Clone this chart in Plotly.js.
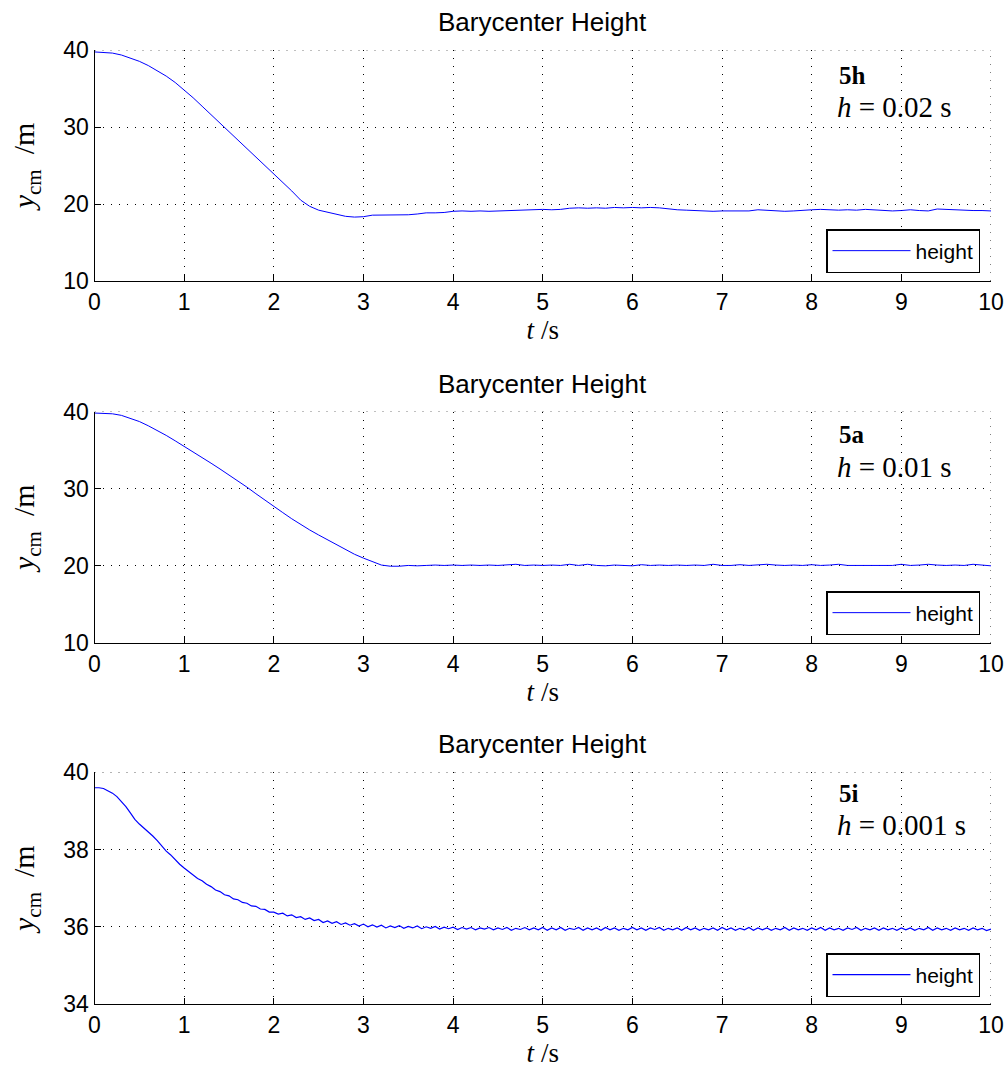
<!DOCTYPE html>
<html>
<head>
<meta charset="utf-8">
<script src="https://cdn.plot.ly/plotly-3.0.1.min.js"></script>
<style>html,body{margin:0;padding:0;background:#fff;}#chart{width:1008px;height:1068px;}</style>
</head>
<body>
<div id="chart"></div>
<script>
// ---- data ----
const chartTitle = "Barycenter Height";
const seriesName = "height";
const caseLabels = ["5h", "5a", "5i"];
const stepLabels = ["0.02", "0.01", "0.001"];
const xTicks = [0,1,2,3,4,5,6,7,8,9,10];
const yTicks1 = [10,20,30,40];
const yTicks2 = [10,20,30,40];
const yTicks3 = [34,36,38,40];

const dt1 = 0.1;   // sampling step used to read panel 1
const height1 = [39.75,39.72,39.60,39.35,38.99,38.53,37.98,37.34,36.61,35.78,34.85,
 33.80,32.70,31.60,30.50,29.40,28.30,27.20,26.10,25.05,24.00,
 22.85,21.70,20.50,19.70,19.20,18.90,18.60,18.40,18.30,18.35,
 18.55,18.55,18.60,18.55,18.60,18.70,18.85,18.85,18.90,19.05,
 19.10,19.05,19.10,19.05,19.10,19.15,19.20,19.25,19.30,19.30,
 19.25,19.30,19.45,19.50,19.45,19.50,19.45,19.55,19.50,19.55,
 19.50,19.55,19.50,19.35,19.25,19.20,19.15,19.10,19.05,19.10,
 19.10,19.15,19.10,19.25,19.20,19.15,19.05,19.10,19.20,19.25,
 19.30,19.25,19.20,19.25,19.20,19.30,19.25,19.15,19.10,19.15,
 19.25,19.15,19.10,19.35,19.30,19.20,19.20,19.15,19.15,19.10];

const dt2 = 0.1;
const height2 = [39.80,39.78,39.70,39.50,39.15,38.70,38.15,37.55,36.90,36.20,35.50,
 34.80,34.05,33.30,32.55,31.80,31.00,30.20,29.35,28.50,27.70,
 26.90,26.10,25.35,24.65,24.00,23.35,22.70,22.10,21.50,21.00,
 20.50,20.10,19.95,19.95,20.05,20.00,20.05,20.10,20.05,20.10,
 20.05,20.10,20.05,20.10,20.05,20.10,20.20,20.05,20.10,20.05,
 20.10,20.05,20.20,20.05,20.20,20.05,20.00,20.10,20.05,20.00,
 20.15,20.05,20.10,20.05,20.10,20.05,20.10,20.05,20.20,20.05,
 20.05,20.15,20.05,20.10,20.20,20.10,20.05,20.10,20.05,20.15,
 20.05,20.10,20.20,20.05,20.05,20.10,20.05,20.10,20.05,20.20,
 20.05,20.10,20.20,20.10,20.05,20.10,20.05,20.20,20.10,20.00];

const dt3 = 0.05;
const height3 = [39.60,39.60,39.58,39.53,39.46,39.37,39.25,39.11,38.95,38.78,38.66,
 38.56,38.46,38.35,38.23,38.10,37.96,37.86,37.73,37.62,37.52,
 37.43,37.35,37.25,37.19,37.10,37.04,36.95,36.91,36.83,36.80,
 36.72,36.70,36.63,36.61,36.54,36.53,36.46,36.45,36.38,36.38,
 36.33,36.35,36.28,36.31,36.24,36.26,36.19,36.23,36.16,36.19,
 36.11,36.15,36.09,36.13,36.06,36.10,36.04,36.08,36.02,36.07,
 36.00,36.05,35.99,36.04,35.97,36.02,35.98,36.03,35.96,36.01,
 35.97,36.02,35.95,36.00,35.96,36.01,35.94,35.99,35.95,35.99,
 35.93,35.98,35.94,35.98,35.92,35.97,35.94,35.98,35.92,35.97,
 35.93,35.98,35.91,35.96,35.93,35.98,35.92,35.97,35.92,35.98,
 35.91,35.97,35.92,35.98,35.91,35.96,35.93,35.98,35.91,35.97,
 35.92,35.97,35.91,35.98,35.92,35.97,35.91,35.96,35.92,35.98,
 35.92,35.97,35.91,35.97,35.93,35.98,35.91,35.96,35.92,35.97,
 35.91,35.98,35.92,35.97,35.91,35.96,35.92,35.97,35.91,35.98,
 35.92,35.97,35.91,35.96,35.92,35.98,35.91,35.97,35.92,35.97,
 35.91,35.96,35.92,35.98,35.91,35.97,35.92,35.96,35.91,35.97,
 35.92,35.98,35.91,35.97,35.92,35.96,35.91,35.97,35.93,35.98,
 35.91,35.96,35.92,35.97,35.91,35.97,35.92,35.96,35.91,35.97,
 35.92,35.97,35.91,35.96,35.92,35.98,35.91,35.97,35.92,35.96,
 35.91,35.97,35.92,35.96,35.91,35.97,35.92,35.96,35.90,35.94];

function timeAxis(n, dt){ const t=[]; for(let i=0;i<n;i++) t.push(+(i*dt).toFixed(4)); return t; }

// ---- layout helpers ----
const W = 1008, H = 1068;
const px = v => v / W;
const py = v => 1 - v / H;
const xDom = [px(94.5), px(991)];
const panels = [
  {top: 50,    bottom: 281,  yr:[10,40], yt:yTicks1, data:height1, dt:dt1, lab:[76,107], leg:251},
  {top: 411.5, bottom: 643,  yr:[10,40], yt:yTicks2, data:height2, dt:dt2, lab:[435,467], leg:613},
  {top: 772.3, bottom: 1004, yr:[34,40], yt:yTicks3, data:height3, dt:dt3, lab:[793,825], leg:975}
];

const sans = "Liberation Sans, Arial, sans-serif";
const serif = "Liberation Serif, Times New Roman, serif";
const dotDash = "1px,7px";

const traces = [];
const layout = {
  width: W, height: H,
  margin: {l:0, r:0, t:0, b:0},
  paper_bgcolor: "white", plot_bgcolor: "white",
  showlegend: true,
  annotations: [], shapes: []
};

panels.forEach((p, i) => {
  const k = i === 0 ? "" : String(i+1);
  const legKey = i === 0 ? "legend" : "legend" + (i+1);
  traces.push({
    type: "scatter", mode: "lines",
    x: timeAxis(p.data.length, p.dt), y: p.data,
    name: seriesName,
    xaxis: "x" + k, yaxis: "y" + k,
    legend: legKey,
    line: {color: "rgb(0,0,255)", width: i === 2 ? 1.2 : 1}
  });
  const grid = {showgrid: true, gridcolor: "#000", gridwidth: 1, griddash: dotDash};
  layout["xaxis" + k] = Object.assign({
    domain: xDom, anchor: "y" + k, range: [0,10],
    tickmode: "array", tickvals: xTicks, ticktext: xTicks.map(String),
    ticks: "inside", ticklen: 6, tickwidth: 1, tickcolor: "#000",
    showline: true, linecolor: "#000", linewidth: 1, mirror: false, zeroline: false,
    tickfont: {family: sans, size: 23, color: "#000"},
    title: {text: "<i>t</i> /s", font: {family: serif, size: 27, color: "#000"}, standoff: 6},
    automargin: false, fixedrange: true
  }, grid);
  layout["yaxis" + k] = Object.assign({
    domain: [py(p.bottom), py(p.top)], anchor: "x" + k, range: p.yr,
    tickmode: "array", tickvals: p.yt, ticktext: p.yt.map(String),
    ticks: "inside", ticklen: 6, tickwidth: 1, tickcolor: "#000",
    showline: true, linecolor: "#000", linewidth: 1, mirror: false, zeroline: false,
    tickfont: {family: sans, size: 23, color: "#000"},
    title: {text: "<i>y</i><sub>cm</sub>  /m", font: {family: serif, size: 30, color: "#000"}, standoff: 19},
    automargin: false, fixedrange: true
  }, grid);
  layout[legKey] = {
    x: px(980), xanchor: "right", y: py(p.leg), yanchor: "middle",
    bgcolor: "white", bordercolor: "#000", borderwidth: 1.5,
    font: {family: sans, size: 21, color: "#000"},
    itemwidth: 78
  };
  // dotted grid lines on the top and right edges of the box
  layout.shapes.push({type: "line", xref: "x" + k, yref: "y" + k, x0: 0, x1: 10, y0: p.yr[1], y1: p.yr[1],
    line: {color: "#000", width: 1, dash: dotDash}, layer: "below"});
  layout.shapes.push({type: "line", xref: "x" + k, yref: "y" + k, x0: 10, x1: 10, y0: p.yr[0], y1: p.yr[1],
    line: {color: "#000", width: 1, dash: dotDash}, layer: "below"});
  // subplot title
  layout.annotations.push({
    xref: "paper", yref: "paper", x: (xDom[0]+xDom[1])/2, y: py(p.top - 28),
    xanchor: "center", yanchor: "middle", showarrow: false,
    text: chartTitle, font: {family: sans, size: 26, color: "#000"}
  });
  layout.annotations.push({
    xref: "paper", yref: "paper", x: px(837), y: py(p.lab[0]),
    xanchor: "left", yanchor: "middle", showarrow: false,
    text: "<b>" + caseLabels[i] + "</b>", font: {family: serif, size: 25, color: "#000"}
  });
  layout.annotations.push({
    xref: "paper", yref: "paper", x: px(835), y: py(p.lab[1]),
    xanchor: "left", yanchor: "middle", showarrow: false,
    text: "<i>h</i> = " + stepLabels[i] + " s", font: {family: serif, size: 29, color: "#000"}
  });
});

Plotly.newPlot("chart", traces, layout, {staticPlot: true, displayModeBar: false});
</script>
</body>
</html>
